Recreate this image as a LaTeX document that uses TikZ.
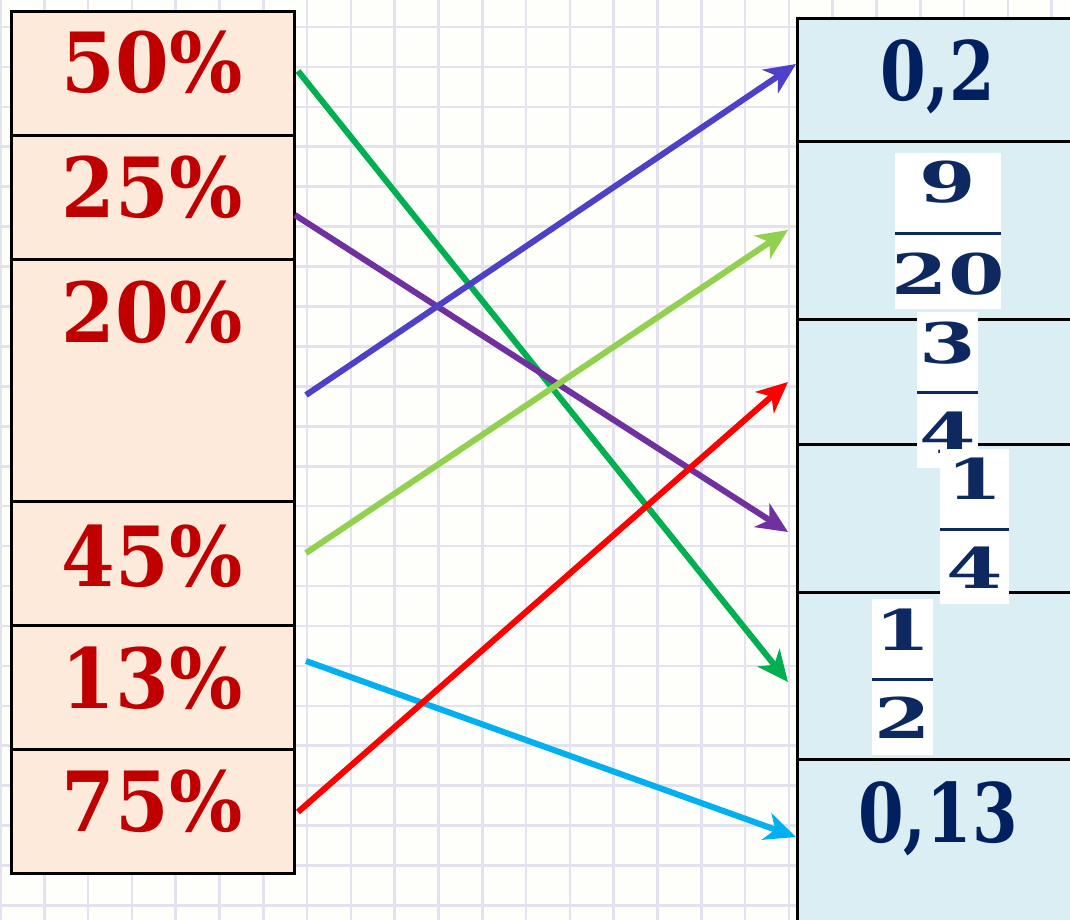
\documentclass[tikz,border=0pt]{standalone}
\usepackage{fontspec}
\usetikzlibrary{arrows.meta}
\newfontfamily\pctfont{DejaVu Serif}[FakeStretch=0.93]
\newfontfamily\decfont{DejaVu Serif}[FakeStretch=0.8]
\newfontfamily\frcfont{DejaVu Serif}[FakeStretch=1.45]
\definecolor{pctred}{RGB}{192,0,0}
\definecolor{navy}{RGB}{0,32,96}
\definecolor{fracnavy}{RGB}{14,40,96}
\definecolor{peach}{RGB}{253,234,219}
\definecolor{paleblue}{RGB}{219,238,243}
\definecolor{gridc}{RGB}{228,226,238}
\definecolor{paper}{RGB}{254,254,250}
\definecolor{cgreen}{RGB}{0,176,80}
\definecolor{cpurple}{RGB}{112,48,160}
\definecolor{cviolet}{RGB}{78,64,200}
\definecolor{clime}{RGB}{146,208,80}
\definecolor{cred}{RGB}{255,0,0}
\definecolor{ccyan}{RGB}{0,176,240}
\begin{document}
\begin{tikzpicture}[x=1pt,y=-1pt,
  gridline/.style={draw=gridc, line width=2.6pt},
  cellL/.style={draw=black, line width=3pt, fill=peach, inner sep=0pt, anchor=north west, minimum width=283pt},
  cellR/.style={draw=black, line width=3pt, fill=paleblue, inner sep=0pt, anchor=north west, minimum width=300pt},
  pct/.style={text=pctred, font=\pctfont\bfseries\fontsize{83}{83}\selectfont, inner sep=0pt, anchor=base},
  dec/.style={text=navy, font=\decfont\bfseries\fontsize{82}{82}\selectfont, inner sep=0pt, anchor=base},
  fracbg/.style={fill=white, inner sep=0pt, anchor=north west},
  frc/.style={text=fracnavy, font=\frcfont\bfseries\fontsize{56}{56}\selectfont, inner sep=0pt, anchor=base},
  fracbar/.style={draw=fracnavy, line width=3pt},
  arr/.style={line width=6pt, -{Stealth[length=31pt, width=28pt, inset=9pt]}}]
\useasboundingbox (0,0) rectangle (1070,920);
\clip (0,0) rectangle (1070,920);
\fill[paper] (0,0) rectangle (1070,920);
% grid
\foreach \i in {0,...,25} \draw[gridline] ({0.4+43.8*\i},0) -- ({0.4+43.8*\i},920);
\foreach \j in {-1,...,23} \draw[gridline] (0,{27+39.93*\j}) -- (1070,{27+39.93*\j});
% left column
\node[cellL, minimum height=124pt] (l1) at (10,10) {};
\node[cellL, minimum height=124pt] (l2) at (10,134) {};
\node[cellL, minimum height=242pt] (l3) at (10,258) {};
\node[cellL, minimum height=124pt] (l4) at (10,500) {};
\node[cellL, minimum height=124pt] (l5) at (10,624) {};
\node[cellL, minimum height=124pt] (l6) at (10,748) {};
\node[pct] (p1) at (152,93) {50\%};
\node[pct] (p2) at (152,218) {25\%};
\node[pct] (p3) at (152,342) {20\%};
\node[pct] (p4) at (152,586) {45\%};
\node[pct] (p5) at (152,708) {13\%};
\node[pct] (p6) at (152,831) {75\%};
% right column
\node[cellR, minimum height=123pt] (r1) at (796,17) {};
\node[cellR, minimum height=178pt] (r2) at (796,140) {};
\node[cellR, minimum height=125pt] (r3) at (796,318) {};
\node[cellR, minimum height=148pt] (r4) at (796,443) {};
\node[cellR, minimum height=167pt] (r5) at (796,591) {};
\node[cellR, minimum height=250pt] (r6) at (796,758) {};
\node[dec] (d1) at (938,101) {0,2};
\node[dec] (d2) at (938,842) {0,13};
% fraction 9/20
\node[fracbg, minimum width=106pt, minimum height=156pt] (fa) at (895,153) {};
\node[frc] (fan) at (948,203) {9};
\node[frc] (fad) at (948,294) {20};
\draw[fracbar] (fa.west |- 0,233) -- (fa.east |- 0,233);
% fraction 3/4
\node[fracbg, minimum width=61pt, minimum height=156pt] (fb) at (917,312) {};
\node[frc] (fbn) at (947.5,363) {3};
\node[frc] (fbd) at (947.5,453) {4};
\draw[fracbar] (fb.west |- 0,392) -- (fb.east |- 0,392);
% fraction 1/4
\node[fracbg, minimum width=69pt, minimum height=155pt] (fc) at (940,449) {};
\node[frc] (fcn) at (974.5,499) {1};
\node[frc] (fcd) at (974.5,588) {4};
\draw[fracbar] (fc.west |- 0,529) -- (fc.east |- 0,529);
% fraction 1/2
\node[fracbg, minimum width=61pt, minimum height=156pt] (fd) at (872,599) {};
\node[frc] (fdn) at (902.5,650) {1};
\node[frc] (fdd) at (902.5,738) {2};
\draw[fracbar] (fd.west |- 0,679) -- (fd.east |- 0,679);
% connectors
\coordinate (gS) at (298,71);  \coordinate (gE) at (788,682);
\coordinate (pS) at (295,215); \coordinate (pE) at (788,532);
\coordinate (vS) at (306,395); \coordinate (vE) at (796,64);
\coordinate (lS) at (306,553); \coordinate (lE) at (788,230);
\coordinate (cS) at (306,661); \coordinate (cE) at (796,837);
\coordinate (rS) at (298,812); \coordinate (rE) at (788,382);
\draw[arr, cgreen] (gS) -- (gE);
\draw[arr, cpurple] (pS) -- (pE);
\draw[arr, cviolet] (vS) -- (vE);
\draw[arr, clime] (lS) -- (lE);
\draw[arr, ccyan] (cS) -- (cE);
\draw[arr, cred] (rS) -- (rE);
\end{tikzpicture}
\end{document}
